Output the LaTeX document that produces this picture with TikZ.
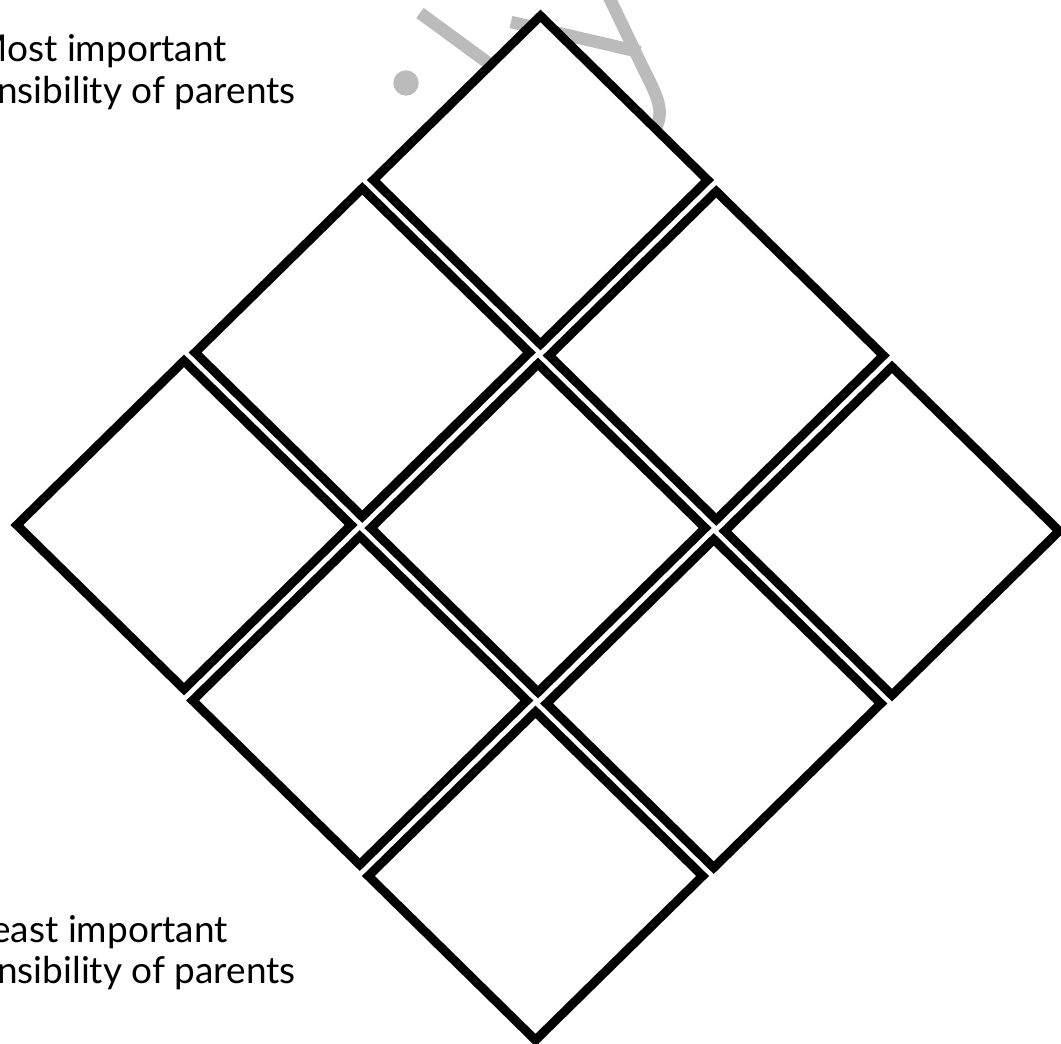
\documentclass[tikz,border=0pt]{standalone}
\usepackage{fontspec}
\setmainfont{Lato}
\usetikzlibrary{shapes.geometric}
\definecolor{wmgray}{HTML}{BBBBBB}
\tikzset{
  cell/.style={diamond, draw=black, fill=white, line width=9pt, inner sep=0pt,
    minimum width=338pt, minimum height=332pt, line join=miter},
  sidetext/.style={inner sep=0pt, anchor=base east, text=black,
    font=\fontsize{37}{42}\selectfont},
  wm/.style={draw=wmgray, line width=12.5pt, line cap=butt}
}
\begin{document}
\begin{tikzpicture}[x=1pt,y=-1pt]
  \useasboundingbox (0,0) rectangle (1061,1044);
  \clip (0,0) rectangle (1061,1044);
  \fill[white] (0,0) rectangle (1061,1044);
  % faint watermark behind the grid
  \fill[wmgray] (406,83) circle (12.7);
  \draw[wm] (420,13) -- (495,68);
  \draw[wm] (511,22) -- (640,52);
  \draw[wm] (608,-5) -- (645,72) .. controls (662,105) and (664,115) .. (652,135);
  % diamond ranking grid
  \node[cell] (T)  at (540.5,180) {};
  \node[cell] (UL) at (362.25,352.5) {};
  \node[cell] (UR) at (716.25,355.5) {};
  \node[cell] (L)  at (184,525) {};
  \node[cell] (C)  at (538,528) {};
  \node[cell] (R)  at (892,531) {};
  \node[cell] (LL) at (359.75,700.5) {};
  \node[cell] (LR) at (713.75,703.5) {};
  \node[cell] (B)  at (535.5,876) {};
  % side texts
  \node[sidetext] (most1)  at (227,61)  {Most important};
  \node[sidetext] (most2)  at (296,103) {responsibility of parents};
  \node[sidetext] (least1) at (228,942) {Least important};
  \node[sidetext] (least2) at (296,983) {responsibility of parents};
\end{tikzpicture}
\end{document}
